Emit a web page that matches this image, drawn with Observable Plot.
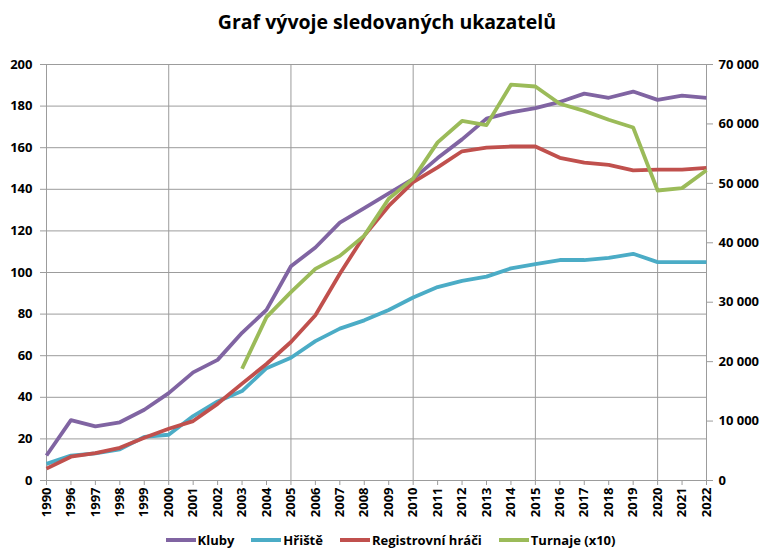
<!DOCTYPE html>
<html><head><meta charset="utf-8">
<script src="https://cdn.jsdelivr.net/npm/d3@7"></script>
<script src="https://cdn.jsdelivr.net/npm/@observablehq/plot@0.6"></script>
<style>
body{margin:0;background:#fff;font-family:"Open Sans",sans-serif;color:#000;}
#title{height:40px;line-height:44px;text-align:center;font-weight:bold;font-size:19.5px;padding-left:12px;box-sizing:border-box;}
#chart svg{display:block;}
#legend{height:24px;display:flex;justify-content:center;align-items:center;padding-left:36px;padding-top:5px;box-sizing:border-box;font-weight:bold;font-size:13px;line-height:18px;}
.item{display:flex;align-items:center;margin-right:17px;}
.sw{display:inline-block;width:30px;height:4px;margin-right:2px;}
</style></head><body>
<div id="title">Graf vývoje sledovaných ukazatelů</div>
<div id="chart"></div>
<div id="legend"></div>
<script>
const years = ["1990","1996","1997","1998","1999","2000","2001","2002","2003","2004","2005","2006","2007","2008","2009","2010","2011","2012","2013","2014","2015","2016","2017","2018","2019","2020","2021","2022"];
// left axis
const kluby = [12,29,26,28,34,42,52,58,71,82,103,112,124,131,138,145,155,164,174,177,179,182,186,184,187,183,185,184];
const hriste = [8,12,13,15,21,22,31,38,43,54,59,67,73,77,82,88,93,96,98,102,104,106,106,107,109,105,105,105];
// right axis
const hraci = [2000,4000,4600,5500,7200,8700,10000,12900,16300,19600,23300,27800,34800,41200,46200,50200,52700,55400,56000,56200,56200,54300,53500,53100,52200,52300,52300,52600];
const turnaje = [null,null,null,null,null,null,null,null,18800,27500,31700,35600,37800,41200,47400,50800,56900,60500,59800,66600,66300,63400,62200,60700,59400,48800,49200,52200];
const leftTicks = [0,20,40,60,80,100,120,140,160,180,200];
const rightTicks = [0,10000,20000,30000,40000,50000,60000,70000];
const gridYears = ["2000","2005","2010","2015","2020"];
const seriesNames = ["Kluby","Hřiště","Registrovní hráči","Turnaje (x10)"];
const seriesColors = ["#8064A2","#4BACC6","#C0504D","#9BBB59"];

const ratio = rightTicks[rightTicks.length-1] / leftTicks[leftTicks.length-1];
const seriesValues = [kluby, hriste, hraci, turnaje];
const seriesRight = [false, false, true, true];
const rows = [];
seriesNames.forEach((name, i) => {
  years.forEach((yr, j) => {
    const v = seriesValues[i][j];
    if (v == null) return;
    rows.push({series: name, year: yr, y: seriesRight[i] ? v / ratio : v});
  });
});
const fmt = v => d3.format(",")(Math.round(v)).replace(/,/g, " ");
const grid = "#9c9c9c";

const chart = Plot.plot({
  width: 762, height: 485,
  marginTop: 24, marginBottom: 45, marginLeft: 46, marginRight: 56,
  style: {fontFamily: "Open Sans, sans-serif", fontSize: "13px", fontWeight: "bold", color: "#000", background: "#fff"},
  x: {type: "point", domain: years, padding: 0, round: false},
  y: {domain: [0, 200]},
  color: {domain: seriesNames, range: seriesColors},
  marks: [
    Plot.gridY(leftTicks, {stroke: grid, strokeOpacity: 1, strokeWidth: 1}),
    Plot.gridX(gridYears, {stroke: grid, strokeOpacity: 1, strokeWidth: 1}),
    Plot.ruleX([years[0], years[years.length - 1]], {stroke: grid, strokeWidth: 1}),
    Plot.ruleY([0], {stroke: grid, strokeWidth: 1}),
    Plot.axisY(leftTicks, {anchor: "left", tickSize: 6, tickPadding: 8, label: null, stroke: grid, fill: "#000", fontWeight: "bold"}),
    Plot.axisY(rightTicks.map(v => v / ratio), {anchor: "right", tickSize: 6, tickPadding: 6, label: null, stroke: grid, fill: "#000", fontWeight: "bold", tickFormat: d => fmt(d * ratio)}),
    Plot.axisX(years, {anchor: "bottom", tickSize: 5, tickPadding: 2, tickRotate: -90, label: null, stroke: grid, fill: "#000", fontWeight: "bold"}),
    Plot.line(rows, {x: "year", y: "y", z: "series", stroke: "series", strokeWidth: 3.8, strokeLinejoin: "round", strokeLinecap: "butt"})
  ]
});
document.getElementById("chart").appendChild(chart);

const legend = document.getElementById("legend");
seriesNames.forEach((name, i) => {
  const it = document.createElement("div");
  it.className = "item";
  const sw = document.createElement("span");
  sw.className = "sw";
  sw.style.background = seriesColors[i];
  it.appendChild(sw);
  it.appendChild(document.createTextNode(name));
  legend.appendChild(it);
});
</script>
</body></html>
